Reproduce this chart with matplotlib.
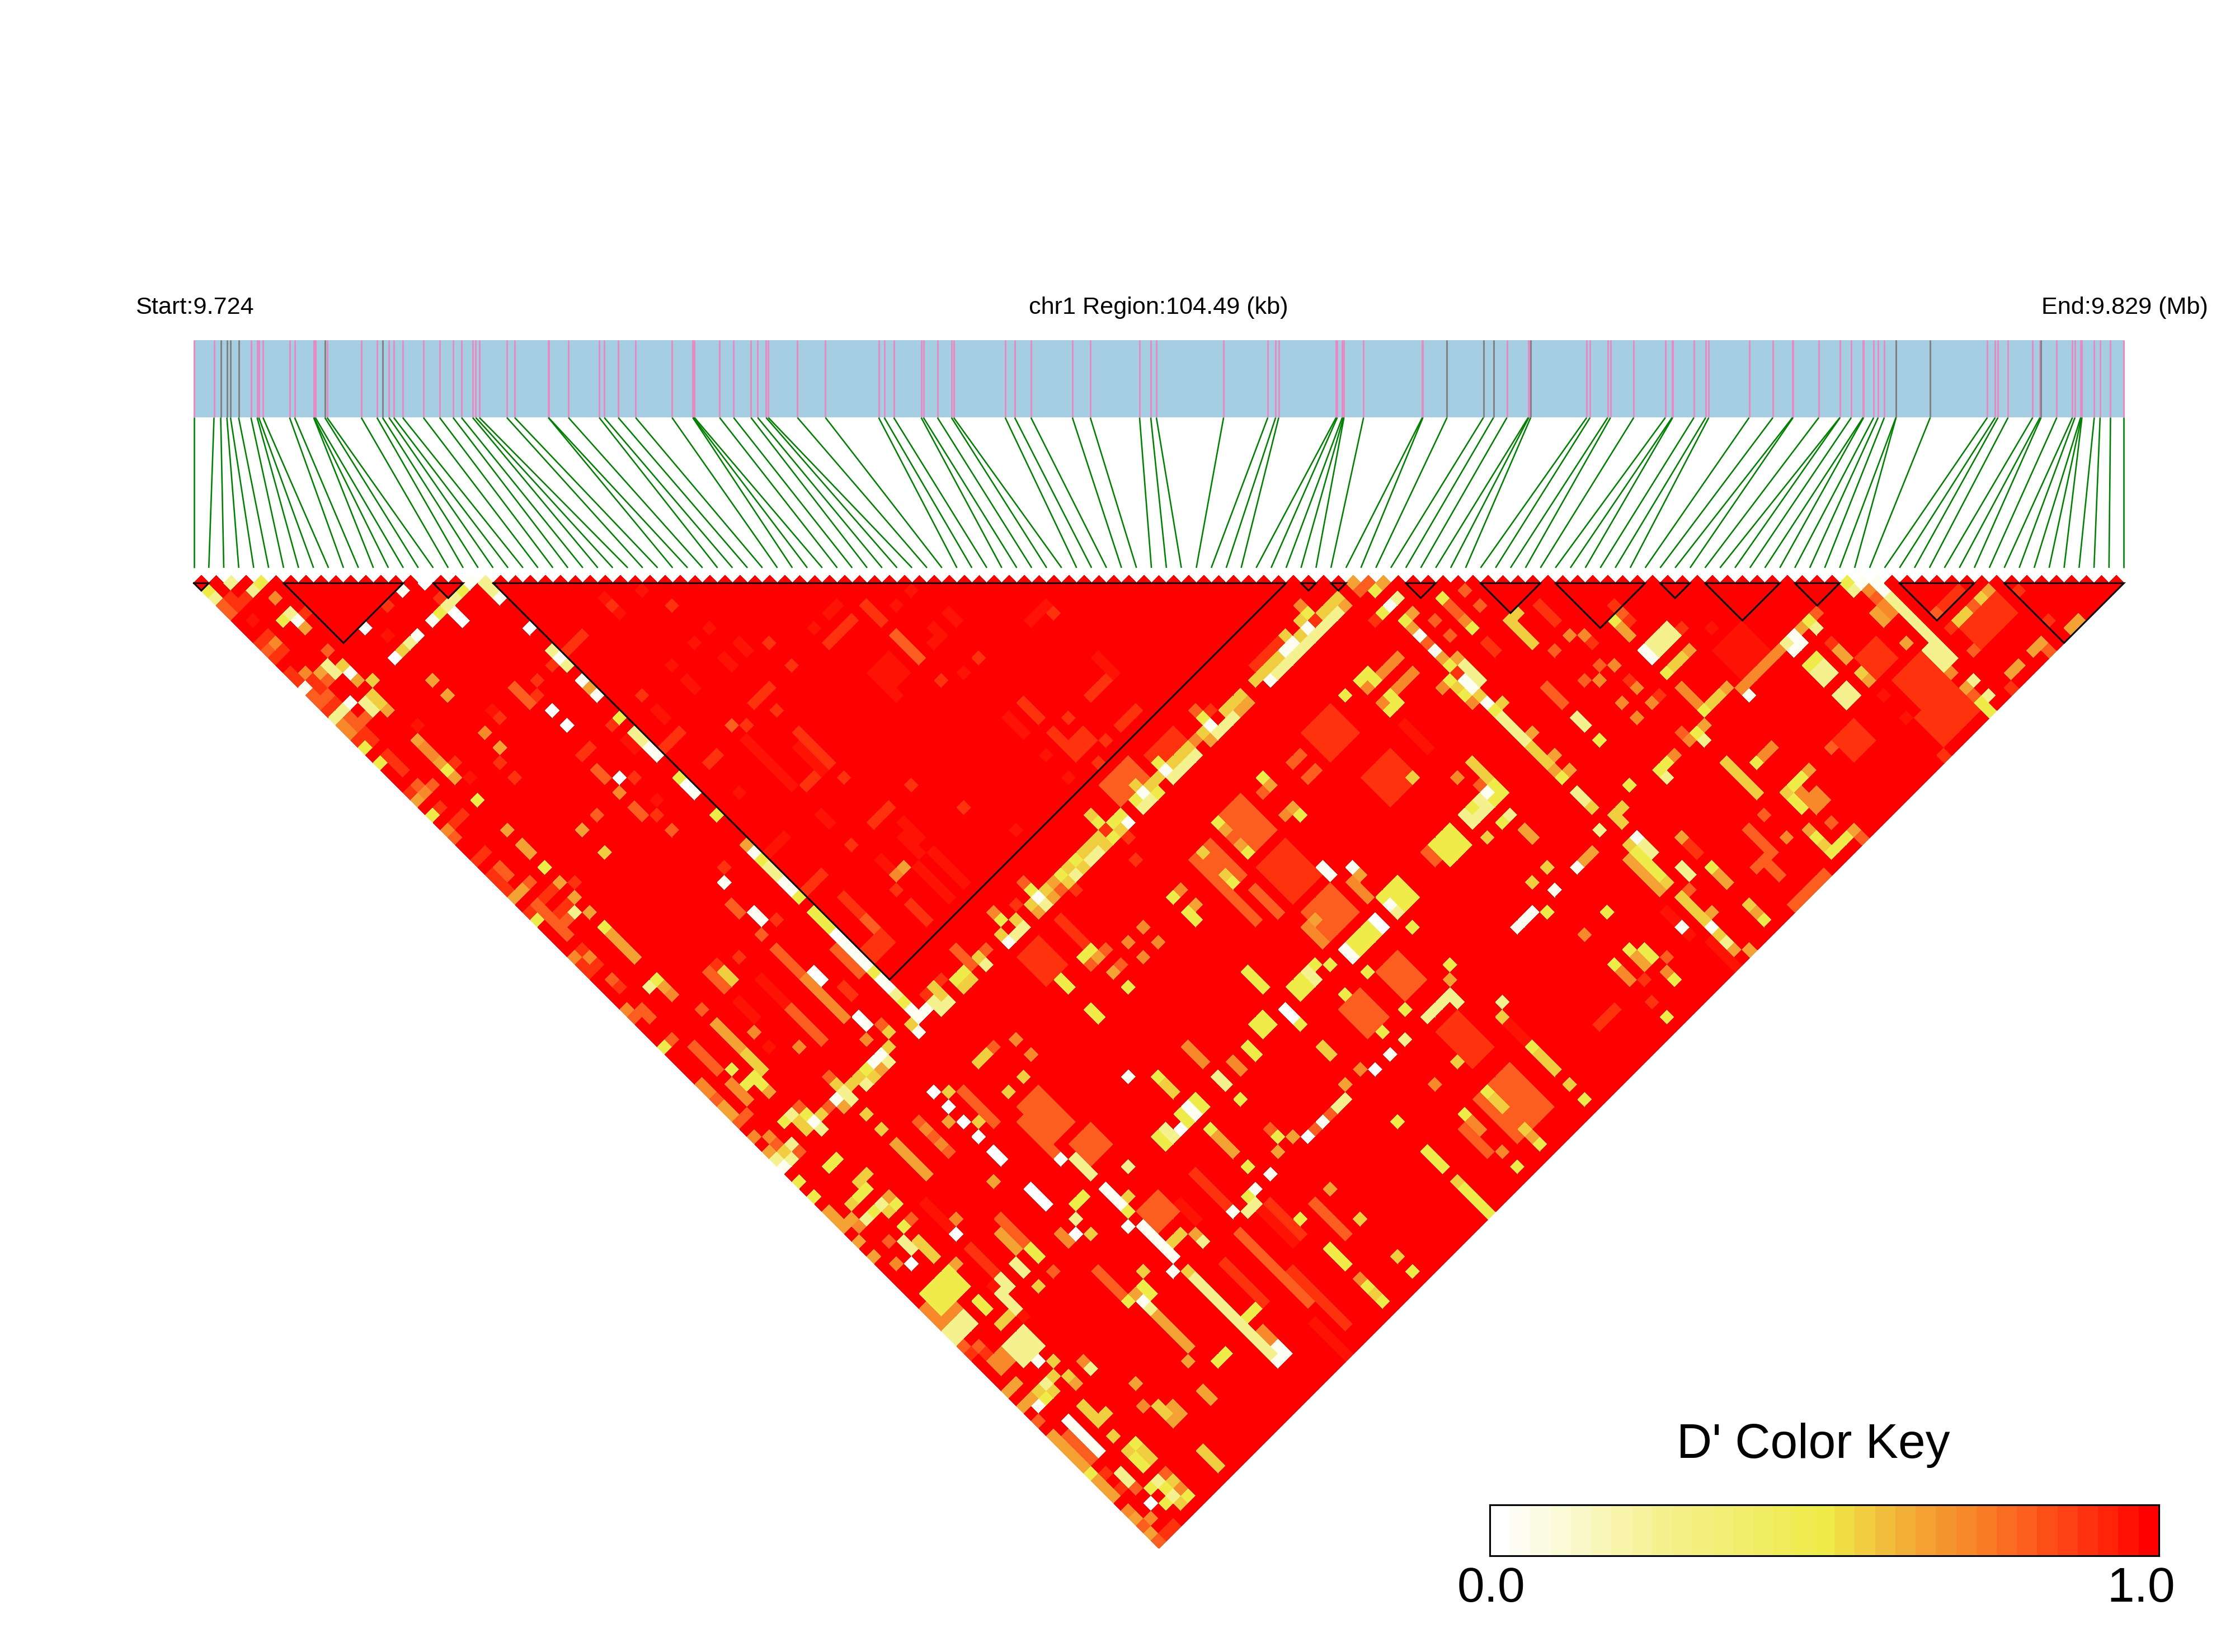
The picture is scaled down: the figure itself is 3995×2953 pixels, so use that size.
import matplotlib
matplotlib.use("Agg")
import matplotlib.pyplot as plt
import numpy as np
from matplotlib.collections import PolyCollection, LineCollection
from matplotlib.colors import LinearSegmentedColormap
from matplotlib.patches import Rectangle

W, H, DPI = 3995, 2953, 300
plt.rcParams['font.family'] = ['Liberation Sans', 'DejaVu Sans']

# ---- SNP positions (relative units, last SNP = span)
snp_offsets = [0,36,48,59,65.5,80,102,113,116,123.5,171,180,214,214.5,217,234,238,299,327,337,
 348.5,357,373,410,439,463,478,498,503.5,510,559,573,633,633.5,669,724,733,758,789,854,
 891,892,894,939,964,995,1007,1022,1026,1078,1128,1223,1233,1250,1299,1303,1328,1353,1357,1449,1466,
 1495,1569,1601,1689,1709,1719,1839,1918,1932,1937.5,2040,2042,2051,2053,2054,2089,
 2194,2195,2238,2303,2321,2345,2383,2384,2387.5,2487.5,2493.5,2525,2530,2571.5,2628,2640,2641,2679,2700,2705.5,
 2777.6,2820,2855,2856,2902,2939.6,2940,2960,2981,2982,3000,3008,3019,3039.7,3040,3101,3203,3217,3222,3240,
 3284,3297,3299,3327,3355,3359.5,3369.6,3371,3372,3394,3404.4,3423,3447]
grey_offsets = [48,59,65.5,80,234,337,2238,2303,2321,2387.5,3039.7,3040,3101,3299]

# LD blocks as (first SNP, last SNP)
block_first = [0,6,16,20,74,76,81,86,91,98,101,107,114,121]
block_last  = [1,14,18,73,75,77,83,90,97,100,106,110,119,129]

# ---- D' values below 1: cells are addressed by (i+j, j-i, run down-right, run down-left)
dprime_crimson = [(60,2),(55,3),(57,5),(69,7),(67,9),(72,9,2),(64,12),(70,11,2),(66,14,2),(58,22,2),(62,18,2),
 (94,4),(96,2),(83,7),(103,13),(99,9),(86,4,1,2),(100,5,2),(98,7,2),(93,11,3,3),(92,14,3),(113,4,1,3),(120,11,3),
 (109,19,3),(114,24),(117,27),(110,34),(74,22,3),(81,23,4),(77,25,4),(84,32,2),(73,29),(79,35,1,3),(94,35,3),
 (95,33,3),(92,38,3),(99,37,5),(97,39,5),(40,18),(26,8),(8,6),(15,5),(30,20),(37,27),(62,30),(76,54,4),(73,57,3),
 (77,63),(104,90,4),(98,84,5),(207,7,4,4),(203,7),(219,9),(160,24,4,4),(161,20,4),(132,84,3),(175,60,3),(142,84,6),
 (190,4,3),(229,19),(225,16),(173,9,2),(197,45,4),(203,49,4),(69,52,2),(64,34),(106,95,5),(150,100,5),(170,96,4),(190,90,4),(210,70,5)]
dprime_scarlet = [(5,3),(7,3),(6,4),(15,5),(10,8,1,2),(12,10,1,2),(26,4),(33,3),(14,6),(13,13),(14,14),(16,14,2),
 (18,18),(19,17),(23,21,2,2),(26,24,3),(35,25),(29,29),(32,28),(33,31),(36,32,1,3),(41,19),(41,25),(43,27),(46,16),(46,14),
 (48,12),(52,8,1,3),(56,4),(64,4),(60,16),(73,20),(56,20),(65,21,1,3),(53,23,1,2),(69,24,1,2),(59,27),(62,32),(39,37,1,2),
 (40,40,3),(48,42,1,2),(50,44,1,2),(51,41),(45,45),(52,50,3,2),(70,39),(69,52,2),(77,9),(85,9),(80,12),(90,4,3),(88,6,1,3),
 (100,14),(105,11),(114,5),(122,14,1,3),(117,19),(111,17,3),(115,21,3),(119,21,2,2),(121,22),(118,24),(120,25),(125,18,1,3),
 (123,20),(77,15),(76,16),(75,17),(78,18),(81,21,4),(82,22,4),(83,27),(82,28),(87,27),(96,28),(103,31),(93,31,1,3),(88,36),(84,40,1,3),
 (87,43,3),(94,42),(96,44,3),(73,51),(78,46),(84,46,3),(92,48,2,3),(87,55,2),(131,21,3,4),(136,18),(169,5),(173,9,2),(158,6),
 (150,6),(145,9,1,4),(180,4,3),(190,4,3),(184,19),(199,7),(191,7),(186,9),(196,16),(225,9,3,3),(230,11,4,4),(240,3,3,5),
 (235,15,4,5),(221,20,3,3),(234,24),(235,2,1,3),(243,2),(248,6),(243,15),(235,7),(219,9),(200,36,2),(191,14),(169,59,5,3),
 (195,57),(189,58,1,3),(152,18,4,4),(160,24,4,4),(146,36,5,4),(143,84,5),(142,90,6),(146,93,8),(138,92,6),(134,80,5),(176,105,4),
 (104,90,4),(122,120,1),(124,122),(130,128),(131,127),(57,55),(104,104),(106,104),(169,13),(194,54),(99,54,1,3),
 (122,34),(125,35),(118,42),(113,49,4,3),(115,46,4),(126,38),(110,44)]
dprime_flame = [(4,4),(5,5),(10,10),(18,10),(18,14),(16,16),(17,17),(18,16),(21,19,2),(23,19),(43,15),(44,16),(45,17),
 (54,26,2),(59,31,2),(54,32),(64,34),(30,28),(32,28),(35,35),(41,39,2),(45,41,1,2),(46,44,5),(50,46),(72,20),(94,8,4),
 (76,48),(78,50,4),(90,46,2),(72,44,2),(86,50,4),(148,24,1,2),(150,26,1,2),(143,29),(168,27),(171,28),(140,30,5,4),
 (135,36,5,3),(141,42,4),(139,43,4),(152,42,4,4),(165,37,2),(134,18),(170,2),(172,4),(168,4,3),(166,6),(168,8),(157,1),(156,2),
 (165,9),(184,8),(182,10),(188,12),(186,14),(190,17),(192,15),(192,19),(180,15,3),(225,3),(199,21),(210,32),(208,34,4),(209,39),
 (212,40),(210,38,2),(217,40,3,3),(214,43,1,2),(219,33),(223,35),(186,48),(211,23),(219,23),(212,10,1,6),(197,51),(200,42),
 (56,54),(68,58),(69,53,3),(79,51,4),(80,58,5),(66,63,4),(64,62),(60,58),(61,59),(59,59),(70,70),(74,72,1,2),(73,70),(76,75),
 (78,76),(81,77),(81,71),(85,71),(85,67),(92,60),(96,86),(93,89),(107,63),(113,69,5,3),(110,73,5),(97,73,5),(102,69,5),(119,74,3,3),
 (108,86,4),(115,93),(105,103),(161,51,4,3),(156,56,4,3),(176,66,6,5),(178,70,3),(169,74,4),(152,71,1,5),(143,74),(129,83,3,3),
 (155,104),(145,93,5),(117,115,4),(130,120),(125,121),(126,122),(127,127),(129,129),(125,125),(103,103),(113,113),(238,4),(238,10),
 (233,5),(238,16),(248,10),(221,15,1),(217,5),(190,5),(219,92),(224,90),(140,88,5),(150,84,5),(120,93,5),
 (116,42),(111,41),(122,50),(120,52),(124,52),(122,53),(106,50,1,3),(102,50,2),(125,25,3,4)]
dprime_orange = [(11,3),(15,13),(11,9),(20,20,2),(31,23),(32,24),(39,21),(57,29),(34,34),(31,29),(94,40),(82,54),(83,55,5),(82,54,1),
 (185,8),(189,12),(187,14),(193,15),(190,17),(195,17),(193,19),(199,15,3),(148,4),(170,6),(184,0+8),(163,13,1,3),(161,11,1,3),
 (157,15),(159,17),(134,22,1,3),(167,15),(171,17),(145,32),(168,27),(155,41,3),(149,47,3),(126,47),(128,49),(131,42),(51,51),
 (68,68),(69,69),(72,69),(71,68),(73,70),(75,75),(77,75),(81,63),(75,61),(58,58),(63,56),(52,51),(90,62),(89,87),(94,92),(99,96,3,3),
 (98,74),(100,76),(107,81),(102,86),(108,104,2,2),(119,105),(127,111),(125,125),(128,126),(132,122),(115,88,2),(110,62),(112,64),
 (216,29,2,2),(213,35),(215,29),(132,63),(133,64,2),(139,65,2),(155,66),(165,68),(171,73,2),(175,77),(156,94),(143,101,2,2),(191,53,2),
 (197,53),(186,48),(233,11,3),(212,10,1,6),(198,24),(200,22),(210,24),(211,23),(224,2),(226,4),(227,5),
 (107,45),(126,47),(124,49),(126,51)]
dprime_amber = [(15,7),(17,13),(22,14),(26,18),(30,22),(33,25),(35,27),(53,15),(32,14),(34,16),(41,23),(30,30),(42,34),(44,36,2),(52,34),
 (44,42),(43,43),(49,41),(51,43),(53,45),(56,48,4),(95,39),(74,36),(155,1),(159,1),(154,4),(189,6,3),(179,21),(182,24),(182,26),(184,26),
 (163,7),(163,5),(169,11),(167,11),(144,28),(146,31),(141,17,1,3),(136,22),(138,34),(140,36),(155,40),(149,46),(133,44),(186,37,1,2),
 (178,34,2),(192,39,2),(190,7,2),(192,38,2),(200,10),(205,15),(220,10,2),(224,14),(215,7),(225,5,2),(229,9),(240,2),(252,6,1,2),
 (247,9),(246,10),(244,12,1,2),(237,15),(202,20),(216,26),(199,35),(204,40,2),(195,41),(196,42),(206,50),(208,50),(209,45),(203,45),
 (193,51,2),(216,34),(222,34),(69,60,4),(72,72),(71,71),(77,77),(87,71),(77,69),(63,55),(73,4+60),(92,66),(85,85),(86,86),(88,86),(87,87),
 (89,89),(91,91),(94,76,5),(93,83),(101,73),(107,81),(102,92),(103,95),(107,88,3),(137,75,3),(145,77),(147,75),(154,68),(152,82),
 (168,54),(179,75),(129,99,5),(132,105),(136,105),(125,96),(133,88),(110,108,1,3),(111,111),(112,110),(118,108),(126,108),(131,111,2,2),
 (135,109,2),(126,126),(128,128),(115,115,5),(121,121,3),
 (115,41),(115,43),(113,45),(121,51),(123,53)]
dprime_gold = [(20,12),(24,14),(28,10),(24,16),(25,17),(55,37),(153,3,1,3),(148,8),(145,11,1,3),(142,14),(146,8),(148,6),(177,5),(177,7,3),
 (176,6),(140,16,1,3),(133,23,1,4),(129,27,1,2),(126,28),(135,21),(179,23,3),(170,25),(171,26,3),(170,16),(169,15),(172,16),(175,17),
 (134,37),(137,40),(173,35),(163,27),(179,41),(181,39),(192,36),(187,22),(190,31),(191,33),(187,31),(190,32),(199,11),(198,12),(204,16),
 (203,17),(205,25,3),(208,28,2),(213,29),(192,28),(197,41),(199,43,5),(204,48),(208,44),(192,36),(218,36),(223,13),(236,6),(237,5,1,2),
 (239,3),(73,64,3),(86,68),(88,68),(89,67),(91,67),(81,73),(82,74),(84,72),(79,77),(93,63),(93,61),(106,64),(105,65),(111,67),(109,69),
 (105,73),(101,69),(92,74),(90,72),(96,60),(100,56),(98,55),(89,81),(90,80),(88,84),(93,85),(97,89),(98,90),(99,91),(120,88),(113,95),
 (109,99),(108,100),(104,51),(103,55),(72,54),(129,68,2),(130,89),(131,88,1,2),(125,83,1,2),(126,93),(151,63,2),(169,65),(175,59),(174,70,2),
 (178,74),(180,64,3),(184,68),(156,86),(157,96,1,1),(161,91),(169,81),(132,93),(113,105),(115,105),(115,107),(113,109),(115,109),(117,107),
 (119,111,3),(122,112),(123,115),(125,117),(127,117,2),(128,118),(129,111,2),(131,121),(132,124),(135,117,2),(137,119),(71,53),
 (120,32),(124,34),(121,35),(122,36),(120,36),(119,37),(119,39),(117,39),(117,41),(114,42),(112,44),(110,46),(108,48),(105,51),(104,54),(126,28)]
dprime_yellow = [(9,1),(2,2),(12,6),(36,2),(33,5),(57,19),(65,27),(70,32),(23,23),(25,25),(34,26),(32,32),(38,30),(47,39),(46,46),(55,47),
 (83,45,3),(76,38),(81,43),(91,53),(95,57),(158,2),(149,5),(159,5),(167,3),(171,7),(162,6),(168,12),(168,14),(174,18),(170,16),(178,22),
 (183,27),(135,19),(129,25),(131,27),(129,29),(126,30),(124,32),(157,13),(156,14),(158,14),(154,16),(160,16),(161,17),(160,18),(143,27),
 (147,32),(174,28),(171,31),(174,30),(175,29),(175,33),(168,34,3,3),(137,33),(141,37),(161,41,3,3),(138,41),(130,43),(132,45),(133,46),
 (156,47,1,4),(157,48,1,4),(163,47),(181,45),(189,45),(193,38,2),(192,50),(194,50,2),(190,52),(196,40),(192,28),(196,26),(189,6),(197,13),
 (188,22),(201,21),(202,18),(197,25),(216,12),(217,11),(216,6),(232,10),(234,10),(239,17),(240,18),(209,25),(215,27),(214,28),(214,30),
 (215,31),(217,35),(219,37),(220,36),(221,35),(193,37,3),(203,39),(210,46),(198,54),(221,1),(62,54),(75,67),(74,68),(76,68),(72,66),
 (63,63),(79,73),(82,72),(90,66),(94,84),(91,85),(90,82),(89,83),(86,78),(85,79),(81,81),(83,83),(95,87),(102,54),(110,104),(112,90,2),
 (105,97,2),(101,93,3,4),(116,54),(117,55),(119,58,2),(119,51),(119,83),(141,53,3),(147,55,2),(150,52),(148,54,2),(152,52),(153,56),(156,53),
 (143,59,2,2),(148,60),(141,63,2),(159,61),(161,58),(168,52),(168,56),(179,63),(197,59),(173,69),(170,72),(180,76),(186,70),(177,79),(161,73),
 (145,75),(165,77,3),(169,82,4),(141,79),(141,83),(148,86),(152,90,3),(157,95),(159,97),(163,93),(128,67),(133,70),(134,71),(131,72,2),(128,75),
 (129,76),(135,74),(139,70),(124,85),(126,95),(127,96),(124,97),(142,98,1,3),(137,104),(120,120),(126,116),(126,118,2),(128,122),(130,122),
 (130,124),(133,123),(137,105),(114,110),(118,84),
 (121,33),(123,33),(124,32),(123,35),(118,38),(116,40),(112,42),(108,46),(103,53),(120,50),(116,55),(124,55),(126,30)]
dprime_pale = [(5,1),(8,2),(3,3),(13,5),(35,3),(34,4),(39,1,2),(50,12),(48,10),(29,9),(18,12),(19,13),(23,17),(24,18),(20,18),(19,19),(51,45),
 (59,21,2),(77,39),(78,40),(161,3),(153,5,1,10),(152,6),(149,9),(148,10),(147,11),(170,12,3),(175,19,4),(137,21),(138,20),(134,24,1,4),
 (139,19),(127,31),(128,30),(188,34),(172,30),(173,31),(172,32),(170,32),(171,33),(176,32),(160,45),(184,19,2),(193,35,3),(198,39,2),(197,27),(185,29,2),
 (197,7,2,4),(218,12,2,2),(213,9),(217,7),(233,9,3,2),(235,11),(221,15,2,2),(238,14),(240,16),(226,2,7),(227,4,6),(222,2),(202,22),(205,49),(110,92,2),
 (108,94,2),(107,96,3),(80,72),(84,74),(78,78),(80,76),(80,78),(87,69),(88,70),(93,65),(95,89),(96,90),(98,57,1,2),(99,57,2),(101,57),(92,84),(90,68),(90,86),
 (118,86),(102,99,2,3),(110,101,3,3),(117,78,3),(61,55),(112,103,1,1),(111,103),(114,108),(120,106),(124,120,2),(129,121),(131,123),(149,53,2),(136,67,2),
 (129,74),(130,75),(142,84),(141,85),(154,70,1,2),(161,62),(167,56,1,4),(169,57),(134,89),(133,94,5),(138,99,3),(141,102,3),(127,98),(124,79),(175,57),
 (125,33),(121,37),(120,38),(118,40),(114,44),(111,47),(110,48),(106,52),(127,31),(94,56)]
dprime_cream = [(37,1),(28,2),(41,3),(30,8),(32,6),(49,11),(52,14),(54,16),(61,23),(62,24),(67,29),(14,6),(21,17),(15,15),(21,13),(75,37),(79,41,2),(71,41),
 (75,45,2),(87,49),(88,50),(89,51),(90,52),(92,54),(93,55),(225,1),(223,1),(226,2),(160,4),(164,8),(166,10),(170,14,2),(173,17),(147,9,1,2),(149,7),
 (144,14),(136,20),(130,26),(127,29),(125,33),(173,29),(182,42),(185,39),(159,44),(153,50),(154,51),(178,45,1,3),(194,10),(195,11),(214,8,1),(215,9),(214,10),
 (208,16),(199,47),(203,47),(193,35),(88,59,2),(96,58),(97,61),(98,58),(96,59),(86,70),(83,73),(91,65),(92,64),(79,79),(112,82,2),(121,82),(122,83),
 (123,84),(116,78),(124,67),(124,87),(138,85),(144,80),(142,82),(126,87,5),(130,93),(132,71,2),(145,105),(126,97),(144,103,2),(117,113,5),(128,124),(113,111),
 (113,105),(151,73),(154,39),(160,64),(151,40),(151,39),(113,43),(109,49),(127,29)]
dprime_white = [(23,7),(27,11),(31,1),(35,5,2),(45,7),(48,18),(50,20),(57,27),(66,28),(86,48),(84,54),(83,53),(88,59),(99,69),(101,71),(103,73),
 (105,75),(107,77),(108,78),(96,92),(102,88),(118,88),(113,83,2),(112,82),(157,46),(158,47),(149,75),(157,66),(145,58,2),(131,74),(128,124)]

# (list order = drawing order, so that pale marks stay on top of reddish ones)
level_values = [0.95, 0.88, 0.80, 0.72, 0.64, 0.56, 0.50, 0.25, 0.06, 0.0]
level_cells = [dprime_crimson, dprime_scarlet, dprime_flame, dprime_orange, dprime_amber, dprime_gold,
               dprime_yellow, dprime_pale, dprime_cream, dprime_white]

key_stops = [(0.0,'#FFFFFF'),(0.06,'#FDFCE6'),(0.25,'#F6F18F'),(0.5,'#EFEB48'),(0.56,'#F1CF40'),(0.64,'#F3A835'),
             (0.72,'#F8892A'),(0.80,'#FB6420'),(0.88,'#FE3F12'),(0.95,'#FF1E08'),(1.0,'#FF0000')]
cmap = LinearSegmentedColormap.from_list('dprime', key_stops, N=33)

n = len(snp_offsets)
dp = np.ones((n, n))
for val, cells in zip(level_values, level_cells):
    for c in cells:
        s, lag = c[0], c[1]
        nr = c[2] if len(c) > 2 else 1
        nl = c[3] if len(c) > 3 else 1
        if (s + lag) % 2:
            s += 1
        i0 = (s - lag) // 2
        j0 = i0 + lag
        for r in range(nr):
            for l in range(nl):
                i, j = i0 - l, j0 + r
                if 0 <= i < j < n:
                    dp[i, j] = val

fig = plt.figure(figsize=(W / DPI, H / DPI), dpi=DPI)
cell = 3450 / (n - 1)   # pixels per SNP step
X0, Y0 = 346.5, 1029
ax = fig.add_axes([0, 0, 1, 1])
ax.set_xlim(-X0 / cell, (W - X0) / cell)
ax.set_ylim(-(H - Y0) / cell, Y0 / cell)
ax.axis('off')

polys, vals = [], []
for i in range(n):
    for j in range(i + 1, n):
        x, y = (i + j) / 2, -(j - i) / 2
        polys.append([(x - .5, y), (x, y + .5), (x + .5, y), (x, y - .5)])
        vals.append(dp[i, j])
pc = PolyCollection(polys, array=np.array(vals), cmap=cmap, clim=(0, 1), edgecolors='face',
                    linewidths=0.12, antialiaseds=False)
ax.add_collection(pc)

# gene bar
bar_top, bar_bottom, link_bottom = (Y0 - 608) / cell, (Y0 - 746.5) / cell, (Y0 - 1015) / cell
ax.add_patch(Rectangle((0, bar_bottom), n - 1, bar_top - bar_bottom, fc='#A6CEE3', ec='none'))
span = max(snp_offsets)
snp_x = [o / span * (n - 1) for o in snp_offsets]
for o, x in zip(snp_offsets, snp_x):
    if o not in grey_offsets:
        ax.plot([x, x], [bar_bottom, bar_top], color='#E78AC3', lw=0.7, solid_capstyle='butt')
for o, x in zip(snp_offsets, snp_x):
    if o in grey_offsets:
        ax.plot([x, x], [bar_bottom, bar_top], color='#808080', lw=0.7, solid_capstyle='butt')
links = [[(x, bar_bottom), (k, link_bottom)] for k, x in enumerate(snp_x)]
ax.add_collection(LineCollection(links, colors='#008000', linewidths=0.62))

# LD blocks
for a, b in zip(block_first, block_last):
    ax.plot([a, b, (a + b) / 2, a], [-.5, -.5, -.5 - (b - a) / 2, -.5], color='black', lw=0.72, solid_joinstyle='miter')

fs_small, fs_big = 10.4, 21
ypx = 550
fig.text(242 / W, 1 - ypx / H, 'Start:9.724', ha='left', va='center', fontsize=fs_small)
fig.text(2071 / W, 1 - ypx / H, 'chr1 Region:104.49 (kb)', ha='center', va='center', fontsize=fs_small)
fig.text(3947 / W, 1 - ypx / H, 'End:9.829 (Mb)', ha='right', va='center', fontsize=fs_small)

# colour key
cax = fig.add_axes([2662.5 / W, 1 - 2781 / H, (3858.5 - 2662.5) / W, 91 / H])
cax.imshow(np.linspace(0, 1, 33)[None, :], cmap=cmap, vmin=0, vmax=1, aspect='auto', interpolation='nearest')
cax.set_xticks([]); cax.set_yticks([])
for sp in cax.spines.values():
    sp.set_linewidth(0.75)
fig.text(3241 / W, 1 - 2584 / H, "D' Color Key", ha='center', va='center', fontsize=fs_big)
fig.text(2665 / W, 1 - 2841 / H, '0.0', ha='center', va='center', fontsize=fs_big)
fig.text(3827 / W, 1 - 2841 / H, '1.0', ha='center', va='center', fontsize=fs_big)

fig.savefig('out.png', dpi=DPI, facecolor='white')
